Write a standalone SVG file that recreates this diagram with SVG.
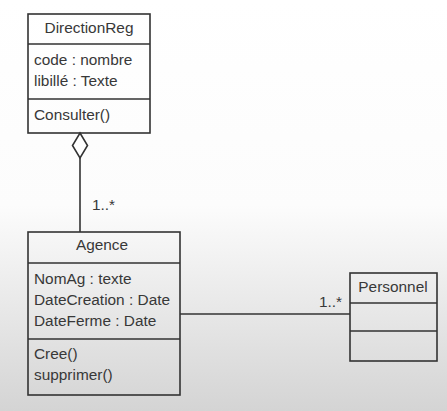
<svg xmlns="http://www.w3.org/2000/svg" width="447" height="411" viewBox="0 0 447 411">
<defs>
<linearGradient id="bg" x1="0" y1="0" x2="0" y2="1">
<stop offset="0" stop-color="#ffffff"/>
<stop offset="0.5" stop-color="#fcfcfc"/>
<stop offset="1" stop-color="#d4d4d4"/>
</linearGradient>
<style>
.box{fill:none;stroke:#333;stroke-width:1.6}
.ln{fill:none;stroke:#333;stroke-width:1.6}
text{font-family:"Liberation Sans",Arial,sans-serif;font-size:15.4px;fill:#383838}
.c{text-anchor:middle}
</style>
</defs>
<rect width="447" height="411" fill="url(#bg)"/>
<g id="connectors">
<path class="ln" d="M80,158 V232"/>
<path d="M80,133 L87.5,145.5 L80,158 L72.5,145.5 Z" fill="#fff" stroke="#333" stroke-width="1.6"/>
<text x="92" y="210">1..*</text>
<path class="ln" d="M180,314 H350"/>
<text x="319" y="307">1..*</text>
</g>
<g id="DirectionReg">
<rect class="box" x="28" y="14" width="122" height="119"/>
<path class="ln" d="M28,44 H150 M28,99 H150"/>
<text class="c" x="89" y="33">DirectionReg</text>
<text x="34" y="65">code : nombre</text>
<text x="34" y="86">libillé : Texte</text>
<text x="34" y="120">Consulter()</text>
</g>
<g id="Agence">
<rect class="box" x="28" y="232" width="152" height="163"/>
<path class="ln" d="M28,263 H180 M28,339 H180"/>
<text class="c" x="102" y="250">Agence</text>
<text x="34" y="284">NomAg : texte</text>
<text x="34" y="305">DateCreation : Date</text>
<text x="34" y="326">DateFerme : Date</text>
<text x="34" y="359">Cree()</text>
<text x="34" y="380">supprimer()</text>
</g>
<g id="Personnel">
<rect class="box" x="350" y="273" width="87" height="88"/>
<path class="ln" d="M350,303 H437 M350,331 H437"/>
<text class="c" x="393" y="292">Personnel</text>
</g>
</svg>
